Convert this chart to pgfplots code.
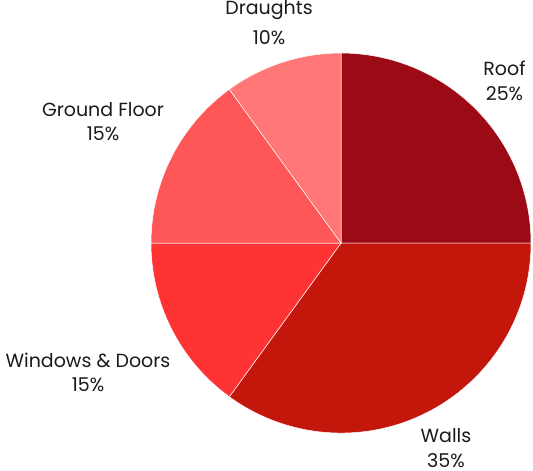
\documentclass[border=0pt]{standalone}
\usepackage{pgfplots}
\pgfplotsset{compat=1.18}
\usepackage{fontspec}
\setmainfont{Poppins}

\definecolor{roof}{HTML}{9C0A16}
\definecolor{walls}{HTML}{C4170C}
\definecolor{windows}{HTML}{FF3333}
\definecolor{ground}{HTML}{FF5757}
\definecolor{draughts}{HTML}{FF7777}
\definecolor{txt}{HTML}{1A1A1A}

% one slice: cumulative share before it, its share, colour
\newcommand\slice[3]{%
  \fill[#3, draw=white, line width=0.5pt] (341,227) -- ++({90-3.6*#1}:190pt)
    arc[start angle={90-3.6*#1}, end angle={90-3.6*(#1+#2)}, radius=190pt] -- cycle;}

\begin{document}
\begin{tikzpicture}
\begin{axis}[
  scale only axis,
  width=533pt, height=470pt,
  xmin=0, xmax=533, ymin=0, ymax=470,
  hide axis,
  clip=false,
]
\path (rel axis cs:0,0) rectangle (rel axis cs:1,1);
\slice{0}{25}{roof}
\slice{25}{35}{walls}
\slice{60}{15}{windows}
\slice{75}{15}{ground}
\slice{90}{10}{draughts}

% anchors sit on the baseline of the last line
\begin{scope}[every node/.style={text=txt, align=center, anchor=base, inner sep=0pt,
    font=\fontsize{19}{24.7}\selectfont}]
\node at (504.5,370) {Roof\\25\%};
\node at (446,2.7) {Walls\\35\%};
\node at (88,78.3) {Windows \& Doors\\15\%};
\node at (103,329.3) {Ground Floor\\15\%};
\node[font=\fontsize{19}{30}\selectfont] at (269,426) {Draughts\\10\%};
\end{scope}
\end{axis}
\end{tikzpicture}
\end{document}
